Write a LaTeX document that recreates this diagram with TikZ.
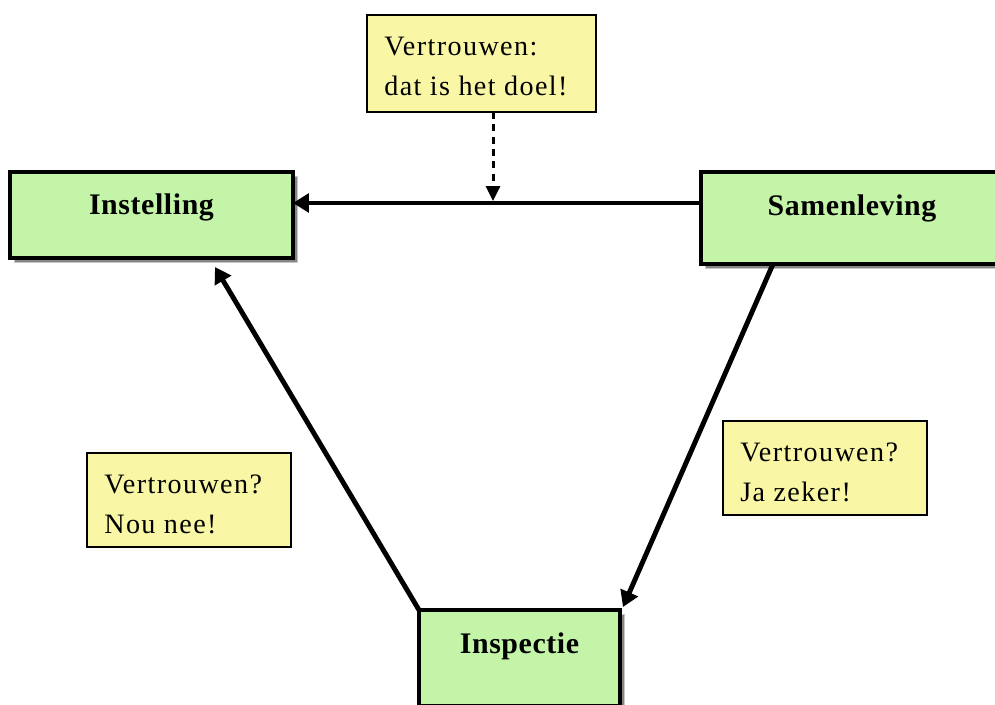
\documentclass[tikz,border=0pt]{standalone}
\usepackage{fontspec}
\setmainfont{Liberation Serif}[LetterSpace=5]
\newfontfamily\labelfont{Liberation Serif}[LetterSpace=2]
\usetikzlibrary{arrows.meta,shadows,calc}

\definecolor{boxgreen}{RGB}{196,244,168}
\definecolor{noteyellow}{RGB}{249,247,165}

\begin{document}
\begin{tikzpicture}[
    block/.style n args={3}{
        draw,
        line width=2.8pt,
        fill=#1,
        minimum width=#2,
        minimum height=#3,
        inner sep=0pt,
        outer sep=0pt,
        drop shadow={shadow xshift=0.09cm, shadow yshift=-0.09cm,
            fill=gray!95, draw=gray!45, line width=0.5pt, opacity=1}
    },
    note/.style n args={2}{
        draw,
        line width=0.8pt,
        fill=noteyellow,
        minimum width=#1,
        minimum height=#2,
        inner sep=0pt,
        outer sep=0pt
    },
    blocklabel/.style={font=\labelfont\fontsize{17}{20}\selectfont\bfseries, anchor=base, inner sep=0pt},
    notelabel/.style={font=\fontsize{16}{22.7}\selectfont, anchor=base west,
        align=left, inner sep=0pt},
    flow/.style={line width=2.8pt, -{Triangle[length=9pt,width=10.5pt]}},
    hint/.style={line width=1.7pt, dash pattern=on 4pt off 3pt,
        -{Triangle[length=8.5pt,width=8pt]}}
]
% ---- page size ----
\useasboundingbox (0,0) rectangle (19.9,-14.08);

% ---- green blocks ----
\node[block={boxgreen}{5.66cm}{1.72cm}] (inst) at (3.03,-4.30) {};
\node[blocklabel] at ([yshift=0.02cm]inst.center) {Instelling};

\node[block={boxgreen}{6.04cm}{1.84cm}] (samen) at (17.04,-4.36) {};
\node[blocklabel] at ([yshift=0.06cm]samen.center) {Samenleving};

\node[block={boxgreen}{4.02cm}{1.92cm}] (insp) at (10.39,-13.16) {};
\node[blocklabel] at ([yshift=0.10cm]insp.center) {Inspectie};

% ---- yellow notes (anchor = baseline of last line) ----
\node[note={4.58cm}{1.94cm}] (doel) at (9.63,-1.27) {};
\node[notelabel] at ([xshift=0.34cm,yshift=-1.60cm]doel.north west)
    {Vertrouwen:\\dat is het doel!};

\node[note={4.08cm}{1.88cm}] (nee) at (3.78,-10.00) {};
\node[notelabel] at ([xshift=0.34cm,yshift=-1.60cm]nee.north west)
    {Vertrouwen?\\Nou nee!};

\node[note={4.08cm}{1.88cm}] (ja) at (16.50,-9.36) {};
\node[notelabel] at ([xshift=0.34cm,yshift=-1.60cm]ja.north west)
    {Vertrouwen?\\Ja zeker!};

% ---- arrows ----
\draw[flow] ([yshift=0.30cm]samen.west) -- ([yshift=0.24cm]inst.east);
\coordinate (trust) at (9.86,-4.02);
\draw[hint] (doel.south -| trust) -- (trust);
\draw[flow] (insp.north west) -- ($(inst.south)+(1.27,-0.18)$);
\draw[flow] ([xshift=-1.58cm]samen.south) -- ($(insp.north east)+(0.06,0.06)$);

\end{tikzpicture}
\end{document}
